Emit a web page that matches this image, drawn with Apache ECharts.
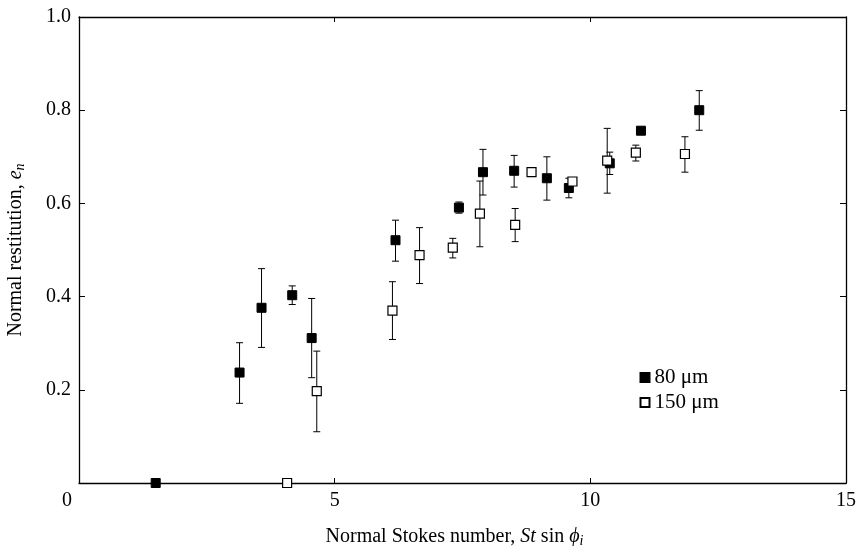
<!DOCTYPE html>
<html>
<head>
<meta charset="utf-8">
<script src="https://cdn.jsdelivr.net/npm/echarts@6/dist/echarts.min.js"></script>
<style>html,body{margin:0;padding:0;background:#fff;}#c{width:856px;height:546px;}</style>
</head>
<body>
<div id="c"></div>
<script>
// 80 μm (filled squares)
const x80  = [1.5, 3.14, 3.57, 4.17, 4.55, 6.19, 7.43, 7.90, 8.51, 9.15, 9.58, 10.38, 10.99, 12.13];
const e80  = [0, 0.237, 0.376, 0.403, 0.311, 0.521, 0.591, 0.667, 0.670, 0.654, 0.633, 0.686, 0.756, 0.800];
const lo80 = [null, 0.171, 0.291, 0.383, 0.226, 0.476, 0.579, 0.618, 0.635, 0.607, 0.612, 0.662, null, 0.757];
const hi80 = [null, 0.301, 0.460, 0.423, 0.396, 0.564, 0.603, 0.716, 0.703, 0.700, 0.654, 0.710, null, 0.842];
// 150 μm (open squares)
const x150  = [4.07, 4.65, 6.13, 6.66, 7.31, 7.84, 8.53, 8.85, 9.65, 10.33, 10.89, 11.85];
const e150  = [0, 0.197, 0.370, 0.489, 0.505, 0.578, 0.554, 0.667, 0.647, 0.692, 0.709, 0.706];
const lo150 = [null, 0.110, 0.308, 0.428, 0.483, 0.507, 0.518, null, null, 0.622, 0.691, 0.667];
const hi150 = [null, 0.283, 0.432, 0.548, 0.525, 0.648, 0.589, null, null, 0.761, 0.725, 0.743];

const seriesNames = ['80 μm', '150 μm'];

const FONT = "'Liberation Serif','Times New Roman',serif";

function pts(xs, ys){ return xs.map((x,i)=>[x, ys[i]]); }
function bars(xs, lo, hi){ const out=[]; xs.forEach((x,i)=>{ if(lo[i]!=null) out.push([x, lo[i], hi[i]]); }); return out; }

function renderErr(params, api){
  const x = api.value(0), lo = api.value(1), hi = api.value(2);
  const a = api.coord([x, lo]), b = api.coord([x, hi]);
  const c = 3.5;
  const st = {stroke:'#000', lineWidth:1};
  return {type:'group', children:[
    {type:'line', shape:{x1:a[0], y1:a[1], x2:b[0], y2:b[1]}, style:st},
    {type:'line', shape:{x1:a[0]-c, y1:a[1], x2:a[0]+c, y2:a[1]}, style:st},
    {type:'line', shape:{x1:b[0]-c, y1:b[1], x2:b[0]+c, y2:b[1]}, style:st}
  ]};
}

const axisLine = {show:true, onZero:false, lineStyle:{color:'#000', width:1.3}};
const nameRich = {
  n:{fontFamily:FONT, fontSize:20, color:'#000'},
  i:{fontFamily:FONT, fontSize:20, fontStyle:'italic', color:'#000'},
  s:{fontFamily:FONT, fontSize:14, fontStyle:'italic', color:'#000', padding:[9,0,0,0]}
};
const chart = echarts.init(document.getElementById('c'), null, {renderer:'canvas'});
chart.setOption({
  animation:false,
  backgroundColor:'#fff',
  grid:{left:79, right:10, top:17, bottom:63, containLabel:false, outerBoundsMode:'none'},
  legend:{
    data:seriesNames, orient:'vertical', left:639.5, top:367, padding:0,
    itemWidth:9, itemHeight:9, itemGap:4, itemTextGap:15, icon:'rect',
    textStyle:{fontFamily:FONT, fontSize:21, color:'#000', lineHeight:21}
  },
  xAxis:[{
    type:'value', min:0, max:15, interval:5, position:'bottom',
    axisLine:axisLine, splitLine:{show:false},
    axisTick:{show:true, inside:true, length:5, lineStyle:{color:'#000'}},
    axisLabel:{color:'#000', fontFamily:FONT, fontSize:20, margin:8,
      formatter:function(v){ return v===0 ? '{z|0}' : String(v); },
      rich:{z:{padding:[0,24,0,0], fontFamily:FONT, fontSize:20, color:'#000'}}},
    name:'{n|Normal Stokes number, }{i|St}{n| sin }{i|ϕ}{s|i}',
    nameLocation:'middle', nameGap:42,
    nameTextStyle:{rich:nameRich, padding:[0,16,0,0]}
  },{
    type:'value', min:0, max:15, interval:5, position:'top',
    axisLine:axisLine, splitLine:{show:false},
    axisTick:{show:true, inside:true, length:5, lineStyle:{color:'#000'}},
    axisLabel:{show:false}
  }],
  yAxis:[{
    type:'value', min:0, max:1, interval:0.2, position:'left',
    axisLine:axisLine, splitLine:{show:false},
    axisTick:{show:true, inside:true, length:6, lineStyle:{color:'#000'}},
    axisLabel:{color:'#000', fontFamily:FONT, fontSize:20, margin:8,
      formatter:function(v){ return v===0 ? '' : v.toFixed(1); }},
    name:'{n|Normal restitution, }{i|e}{s|n}',
    nameLocation:'middle', nameGap:52,
    nameTextStyle:{rich:nameRich}
  },{
    type:'value', min:0, max:1, interval:0.2, position:'right',
    axisLine:axisLine, splitLine:{show:false},
    axisTick:{show:true, inside:true, length:6, lineStyle:{color:'#000'}},
    axisLabel:{show:false}
  }],
  series:[
    {type:'custom', name:'err80', renderItem:renderErr, data:bars(x80, lo80, hi80), z:1, silent:true, clip:false},
    {type:'scatter', name:seriesNames[0], data:pts(x80, e80), symbol:'rect', symbolSize:9,
      itemStyle:{color:'#000', borderColor:'#000', borderWidth:1, opacity:1}, z:2, clip:false},
    {type:'custom', name:'err150', renderItem:renderErr, data:bars(x150, lo150, hi150), z:3, silent:true, clip:false},
    {type:'scatter', name:seriesNames[1], data:pts(x150, e150), symbol:'rect', symbolSize:9,
      itemStyle:{color:'#fff', borderColor:'#000', borderWidth:1.2, opacity:1}, z:4, clip:false}
  ]
});
</script>
</body>
</html>
